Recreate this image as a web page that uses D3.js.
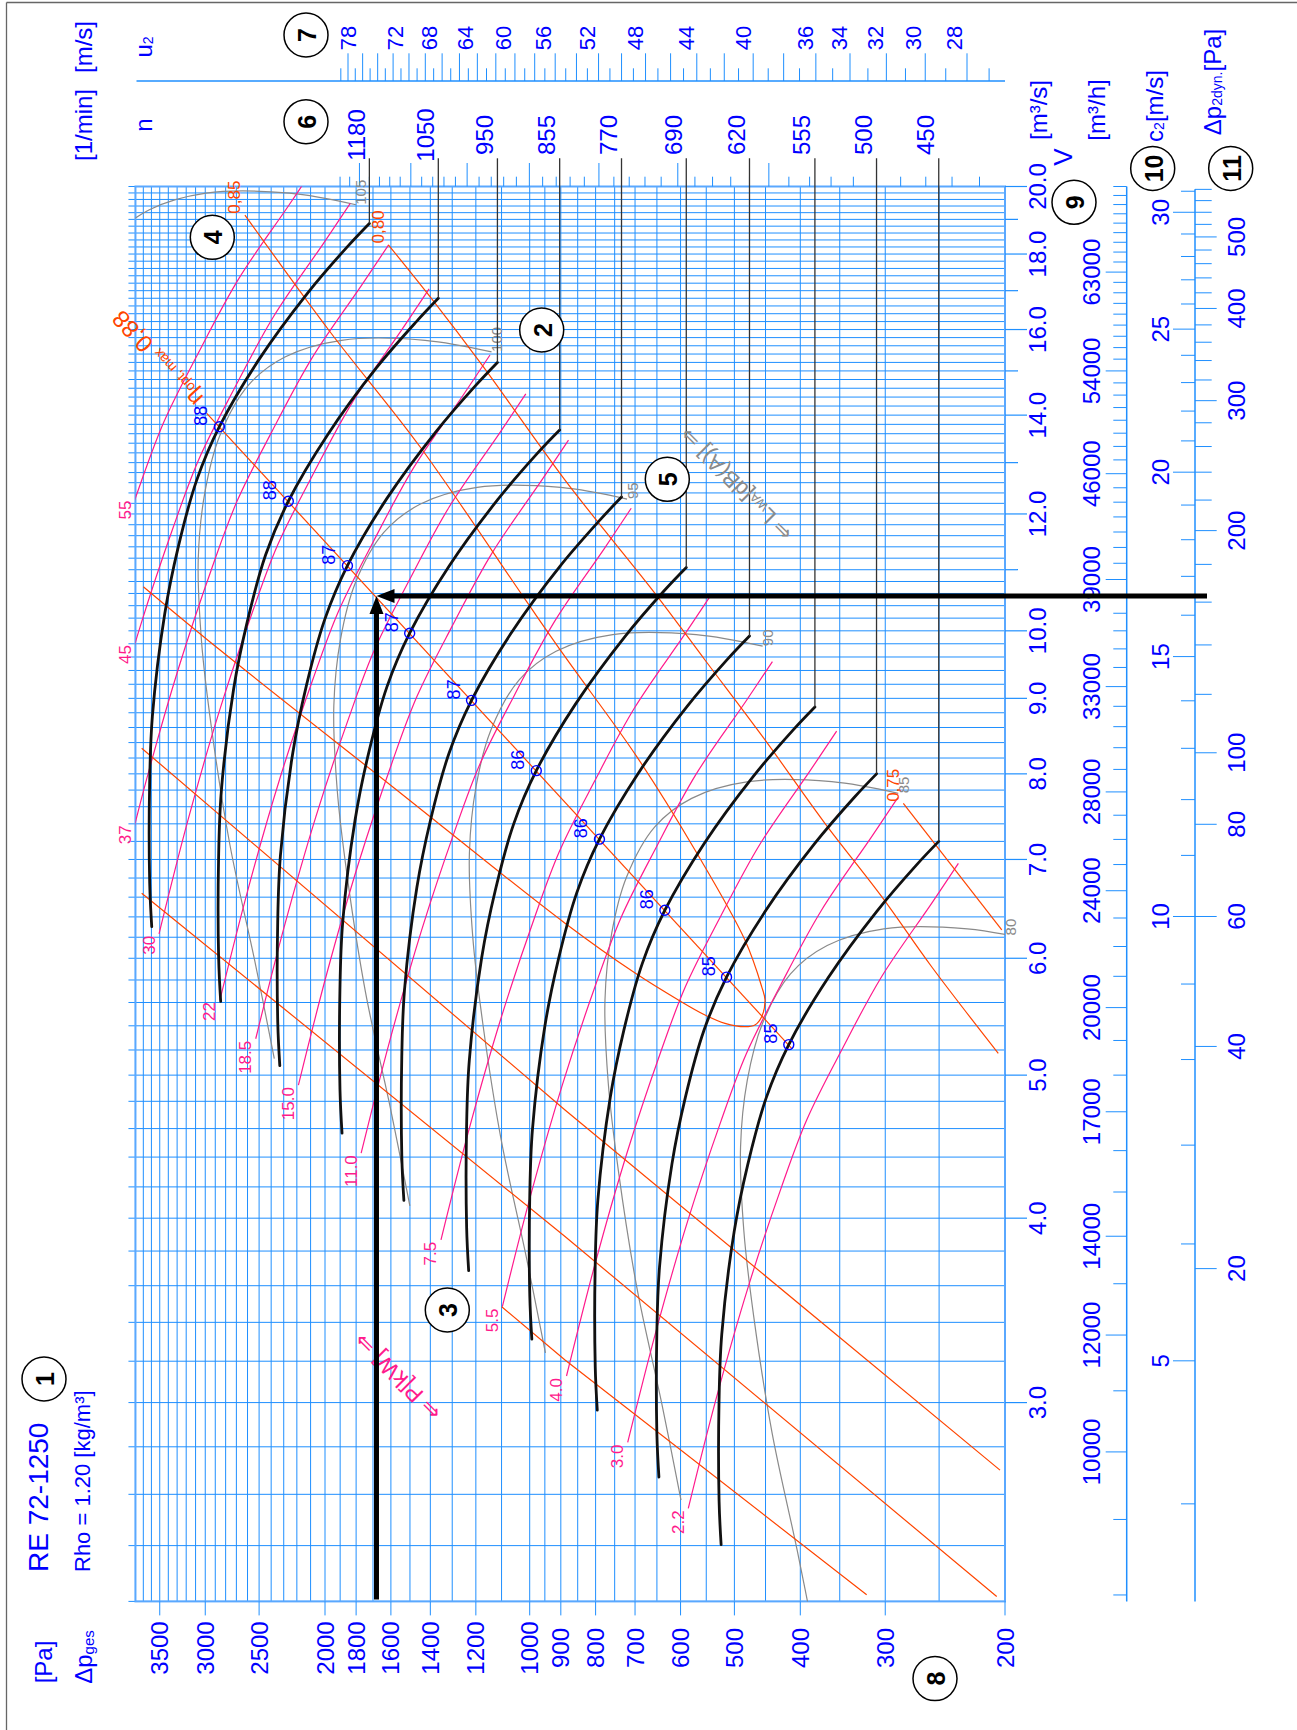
<!DOCTYPE html>
<html>
<head>
<meta charset="utf-8">
<title>RE 72-1250</title>
<script src="https://cdn.jsdelivr.net/npm/d3@7/dist/d3.min.js"></script>
<style>
  html, body { margin: 0; padding: 0; background: #fff; }
  svg { display: block; font-family: "Liberation Sans", Arial, Helvetica, sans-serif; }
</style>
</head>
<body>
<svg id="chart" width="1297" height="1730"></svg>
<script>
// ---------- axis labels ----------
const pressureLabels = [3500, 3000, 2500, 2000, 1800, 1600, 1400, 1200, 1000, 900, 800, 700, 600, 500, 400, 300, 200];
const flowLabels = [3, 4, 5, 6, 7, 8, 9, 10, 12, 14, 16, 18, 20];
const flowMidTicks = [11, 13, 15, 17, 19];
const flowHourLabels = [10000, 12000, 14000, 17000, 20000, 24000, 28000, 33000, 39000, 46000, 54000, 63000];
const c2Labels = [5, 10, 15, 20, 25, 30];
const pdynLabels = [20, 40, 60, 80, 100, 200, 300, 400, 500];
const tipSpeedLabels = [78, 72, 68, 64, 60, 56, 52, 48, 44, 40, 36, 34, 32, 30, 28];

// ---------- fan characteristics: volume flow V [m3/s], total pressure [Pa] ----------
const speeds = [1180, 1050, 950, 855, 770, 690, 620, 555, 500, 450];
const v1180 = [18.88, 18.21, 16.93, 15.26, 13.75, 12.65, 11.40, 10.27, 8.746, 7.884, 6.745, 6.303];
const p1180 = [1721, 1853.5, 2122.8, 2503.2, 2860, 3088, 3287, 3441, 3588.6, 3621.6, 3621, 3596];
const v1050 = [16.80, 16.20, 15.07, 13.58, 12.24, 11.26, 10.14, 9.139, 7.782, 7.015, 6.002, 5.609];
const p1050 = [1362.7, 1467.6, 1680.8, 1982.0, 2264.5, 2445.1, 2602.6, 2724.6, 2841.4, 2867.6, 2867.1, 2847.3];
const v950 = [15.20, 14.66, 13.63, 12.29, 11.07, 10.18, 9.178, 8.268, 7.041, 6.347, 5.430, 5.074];
const p950 = [1115.5, 1201.4, 1375.9, 1622.5, 1853.7, 2001.5, 2130.5, 2230.3, 2326.0, 2347.4, 2347.0, 2330.8];
const v855 = [13.68, 13.20, 12.27, 11.06, 9.963, 9.166, 8.260, 7.441, 6.337, 5.713, 4.887, 4.567];
const p855 = [903.5, 973.1, 1114.5, 1314.2, 1501.5, 1621.2, 1725.7, 1806.6, 1884.1, 1901.4, 1901.1, 1887.9];
const v770 = [12.32, 11.88, 11.05, 9.958, 8.972, 8.255, 7.439, 6.702, 5.707, 5.145, 4.401, 4.113];
const p770 = [732.8, 789.2, 903.9, 1065.9, 1217.8, 1314.9, 1399.6, 1465.2, 1528.1, 1542.1, 1541.9, 1531.2];
const v690 = [11.04, 10.65, 9.900, 8.923, 8.040, 7.397, 6.666, 6.005, 5.114, 4.610, 3.944, 3.686];
const p690 = [588.5, 633.8, 725.8, 855.9, 977.9, 1055.9, 1123.9, 1176.6, 1227.0, 1238.3, 1238.1, 1229.6];
const v620 = [9.920, 9.568, 8.895, 8.018, 7.225, 6.647, 5.990, 5.396, 4.595, 4.142, 3.544, 3.312];
const p620 = [475.1, 511.7, 586.0, 691.1, 789.6, 852.5, 907.4, 950.0, 990.7, 999.8, 999.7, 992.8];
const v555 = [8.880, 8.565, 7.963, 7.177, 6.467, 5.950, 5.362, 4.830, 4.114, 3.708, 3.172, 2.965];
const p555 = [380.7, 410.0, 469.6, 553.8, 632.7, 683.1, 727.1, 761.2, 793.9, 801.2, 801.0, 795.5];
const v500 = [8.000, 7.716, 7.174, 6.466, 5.826, 5.360, 4.831, 4.352, 3.706, 3.341, 2.858, 2.671];
const p500 = [309.0, 332.8, 381.1, 449.4, 513.5, 554.4, 590.2, 617.8, 644.3, 650.2, 650.1, 645.6];
const v450 = [7.200, 6.944, 6.456, 5.820, 5.244, 4.824, 4.347, 3.917, 3.335, 3.007, 2.572, 2.404];
const p450 = [250.3, 269.6, 308.7, 364.0, 415.9, 449.1, 478.0, 500.4, 521.9, 526.7, 526.6, 523.0];

// best efficiency points [%]
const bepV = [13.75, 12.24, 11.07, 9.963, 8.972, 8.040, 7.225, 6.467, 5.826, 5.244];
const bepP = [2860, 2264.5, 1853.7, 1501.5, 1217.8, 977.9, 789.6, 632.7, 513.5, 415.9];
const bepEta = [88, 88, 87, 87, 87, 86, 86, 86, 85, 85];

// ---------- shaft power lines P [kW] ----------
const powerNames = ["2.2", "3.0", "4.0", "5.5", "7.5", "11.0", "15.0", "18.5", "22", "30", "37", "45", "55"];
const kw2_2V = [2.544, 3.028, 3.595, 4.202, 4.664, 5.200, 5.832, 6.537, 6.958];
const kw2_2P = [584.5, 530.9, 477.0, 426.1, 391.3, 347.7, 303.6, 256.4, 234.2];
const kw3_0V = [2.819, 3.355, 3.983, 4.656, 5.168, 5.762, 6.462, 7.243, 7.709];
const kw3_0P = [717.6, 651.8, 585.6, 523.1, 480.4, 426.9, 372.7, 314.8, 287.5];
const kw4_0V = [3.127, 3.721, 4.418, 5.164, 5.732, 6.391, 7.168, 8.034, 8.551];
const kw4_0P = [882.8, 801.9, 720.5, 643.6, 591.0, 525.2, 458.6, 387.3, 353.7];
const kw5_5V = [3.485, 4.148, 4.925, 5.757, 6.390, 7.124, 7.990, 8.956, 9.532];
const kw5_5P = [1097.0, 996.4, 895.3, 799.8, 734.4, 652.6, 569.8, 481.2, 439.6];
const kw7_5V = [3.867, 4.603, 5.464, 6.387, 7.089, 7.904, 8.865, 9.936, 10.576];
const kw7_5P = [1350.4, 1226.6, 1102.1, 984.5, 904.1, 803.3, 701.4, 592.4, 541.1];
const kw11V = [4.427, 5.269, 6.255, 7.311, 8.115, 9.048, 10.148, 11.374, 12.107];
const kw11P = [1769.6, 1607.4, 1444.2, 1290.1, 1184.7, 1052.7, 919.2, 776.3, 709.1];
const kw15V = [4.923, 5.859, 6.956, 8.131, 9.025, 10.062, 11.285, 12.649, 13.464];
const kw15P = [2188.5, 1987.8, 1786.0, 1595.4, 1465.1, 1301.9, 1136.7, 960.0, 876.9];
const kw18_5V = [5.292, 6.298, 7.478, 8.740, 9.701, 10.816, 12.131, 13.597, 14.473];
const kw18_5P = [2528.8, 2296.9, 2063.7, 1843.5, 1692.9, 1504.3, 1313.5, 1109.3, 1013.3];
const kw22V = [5.622, 6.692, 7.945, 9.286, 10.307, 11.492, 12.889, 14.447, 15.377];
const kw22P = [2854.8, 2593.0, 2329.7, 2081.1, 1911.2, 1698.3, 1482.8, 1252.3, 1143.9];
const kw30V = [6.233, 7.419, 8.808, 10.295, 11.427, 12.740, 14.288, 16.016, 17.047];
const kw30P = [3508.4, 3186.7, 2863.2, 2557.7, 2348.8, 2087.1, 1822.4, 1539.0, 1405.8];
const kw37V = [6.675, 7.946, 9.433, 11.026, 12.238, 13.645, 15.303, 17.153, 18.258];
const kw37P = [4024.5, 3655.5, 3284.3, 2933.9, 2694.3, 2394.1, 2090.4, 1765.4, 1612.6];
const kw45V = [7.123, 8.478, 10.066, 11.766, 13.059, 14.560, 16.330, 18.304, 19.482];
const kw45P = [4582.5, 4162.3, 3739.7, 3340.6, 3067.8, 2726.0, 2380.2, 2010.2, 1836.1];
const kw55V = [7.556, 8.993, 10.677, 12.480, 13.852, 15.444, 17.321, 19.415, 20.665];
const kw55P = [5155.8, 4683.1, 4207.6, 3758.6, 3451.6, 3067.0, 2678.0, 2261.7, 2065.9];

// ---------- sound power level LwA [dB(A)] ----------
const soundNames = ["80", "85", "90", "95", "100", "105"];
const lw80V = [6.169, 6.282, 6.282, 6.121, 5.856, 5.416, 4.959, 4.469, 3.924, 3.428, 2.858, 2.382, 2.048];
const lw80P = [181.4, 227.2, 301.4, 365.2, 413.5, 455.0, 478.7, 489.7, 484.3, 468.2, 439.9, 404.2, 378.6];
const lw85V = [7.761, 7.903, 7.903, 7.700, 7.367, 6.814, 6.238, 5.622, 4.937, 4.313, 3.595, 2.997, 2.577];
const lw85P = [287.1, 359.6, 477.0, 577.9, 654.3, 720.1, 757.6, 775.0, 766.4, 740.9, 696.1, 639.6, 599.1];
const lw90V = [9.763, 9.942, 9.942, 9.687, 9.268, 8.572, 7.847, 7.072, 6.211, 5.426, 4.523, 3.770, 3.242];
const lw90P = [454.4, 569.1, 754.9, 914.6, 1035.5, 1139.6, 1199.0, 1226.5, 1212.9, 1172.5, 1101.7, 1012.2, 948.1];
const lw95V = [12.282, 12.507, 12.507, 12.186, 11.659, 10.784, 9.872, 8.897, 7.813, 6.826, 5.689, 4.743, 4.078];
const lw95P = [719.1, 900.5, 1194.7, 1447.4, 1638.8, 1803.6, 1897.5, 1941.1, 1919.5, 1855.7, 1743.5, 1601.9, 1500.5];
const lw100V = [15.451, 15.734, 15.734, 15.330, 14.667, 13.566, 12.419, 11.193, 9.829, 8.587, 7.157, 5.967, 5.131];
const lw100P = [1138.0, 1425.1, 1890.7, 2290.6, 2593.4, 2854.3, 3002.9, 3071.9, 3037.8, 2936.7, 2759.1, 2535.2, 2374.6];
const lw105V = [19.438, 19.794, 19.794, 19.285, 18.451, 17.066, 15.624, 14.081, 12.365, 10.803, 9.004];
const lw105P = [1801.0, 2255.2, 2992.2, 3625.2, 4104.4, 4517.2, 4752.4, 4861.6, 4807.6, 4647.7, 4366.4];

// ---------- efficiency lines ----------
const eta85V = [10.713, 9.705, 7.841, 6.337, 5.863, 5.622, 5.492, 5.421, 5.393, 5.407, 5.477, 5.622, 5.741, 6.173, 7.104, 8.218, 9.604, 10.465, 13.326, 15.945, 19.128];
const eta85P = [3700, 2853.6, 1591.1, 887.3, 699.9, 604.5, 552.4, 516.2, 482.5, 466.4, 455.9, 450.8, 455.9, 482.5, 571.4, 695.9, 887.3, 1010.2, 1449.8, 1966.4, 2623];
const eta80HighV = [18.26, 16.84, 15.10, 12.65, 10.603, 9.555, 8.435, 7.406, 6.605, 5.921, 5.173];
const eta80HighP = [1613.9, 1401.5, 1170.4, 887.3, 654.3, 552.4, 450.8, 368.0, 303.6, 256.4, 204.6];
const eta80LowV = [8.326, 4.735, 2.700];
const eta80LowP = [3720.4, 887.3, 203.4];
const eta75HighV = [7.641, 6.271];
const eta75HighP = [282.2, 202.2];
const eta75LowV = [6.640, 3.887, 2.217];
const eta75LowP = [3720.4, 887.3, 205.7];
const eta70LowV = [3.484, 3.206, 2.223];
const eta70LowP = [1099.4, 887.3, 319.5];
const etaOptV = [14.04, 5.213];
const etaOptP = [2985, 411.9];

// operating point
const opV = 10.56;
const opP = 1680;

// ---------- drawing ----------
const W = 1297, H = 1730;
const GRID = "#1f8fff", BLUE = "#0000ff", MAG = "#ff1a8c", ORG = "#ff4500", GRAY = "#8a8a8a";
const A_OUT = 0.6404;   // outlet area [m2], c2 = V / A
const RHO = 1.2;

const svg = d3.select("#chart");
svg.append("rect").attr("width", W).attr("height", H).attr("fill", "#fff");
svg.append("line").attr("x1", 6.5).attr("y1", 2.5).attr("x2", W).attr("y2", 2.5).attr("stroke", "#666").attr("stroke-width", 1.3);
svg.append("line").attr("x1", 6.5).attr("y1", 2.5).attr("x2", 6.5).attr("y2", H).attr("stroke", "#666").attr("stroke-width", 1.3);

// the diagram is laid out landscape and turned a quarter turn on the page
const g = svg.append("g").attr("transform", `translate(0,${H}) rotate(-90)`);

const xV = d3.scaleLog().domain([2.2, 20]).range([128.6, 1543.5]);
const yP = d3.scaleLog().domain([200, 3800]).range([1005, 135.45]);
const X0 = xV(2.2), X1 = xV(20), Y0 = yP(3800), Y1 = yP(200);

const nPos = n => yP(p1180[0] * Math.pow(n / speeds[0], 2));
const u2Tick = d3.scaleLog().domain([78, 26]).range([348, 967]);
const u2Text = d3.scaleLog().domain([78, 28]).range([348, 954]);
const c2ToV = c => c * A_OUT;
const dynToV = d => Math.sqrt(2 * d / RHO) * A_OUT;

function txt(parent, x, y, s, o = {}) {
  const t = parent.append("text").attr("x", x).attr("y", y)
    .attr("text-anchor", o.anchor || "middle")
    .attr("font-size", o.size || 24)
    .attr("fill", o.fill || BLUE);
  if (o.central !== false) t.attr("dominant-baseline", "central");
  if (o.weight) t.attr("font-weight", o.weight);
  if (o.rotate !== undefined) t.attr("transform", `rotate(${o.rotate},${x},${y})`);
  if (s !== null) t.text(s);
  return t;
}

// ----- grid -----
const vGrid = d3.range(11, 101).map(i => +(i * 0.2).toFixed(1));
const pGrid = d3.range(200, 1001, 50).concat(d3.range(1100, 3801, 100));
const grid = g.append("g").attr("stroke", GRID).attr("stroke-width", 1);
vGrid.forEach(v => grid.append("line").attr("x1", xV(v)).attr("x2", xV(v)).attr("y1", Y0 - 7).attr("y2", Y1));
pGrid.forEach(p => grid.append("line").attr("x1", X0).attr("x2", X1).attr("y1", yP(p)).attr("y2", yP(p)));
g.append("rect").attr("x", X0).attr("y", Y0).attr("width", X1 - X0).attr("height", Y1 - Y0)
  .attr("fill", "none").attr("stroke", "#5aa8ff").attr("stroke-width", 2);

// ----- pressure axis -----
const axes = g.append("g");
pressureLabels.forEach(p => {
  axes.append("line").attr("x1", X0).attr("x2", X0 - 14).attr("y1", yP(p)).attr("y2", yP(p)).attr("stroke", GRID);
  txt(axes, 82, yP(p), p);
});
txt(axes, 68, 43, "[Pa]");
const dp = txt(axes, 73, 83, null);
dp.append("tspan").text("Δp");
dp.append("tspan").attr("font-size", 15).attr("dy", 5).text("ges");

// ----- flow axis V [m3/s] -----
flowLabels.forEach(v => {
  axes.append("line").attr("x1", xV(v)).attr("x2", xV(v)).attr("y1", Y1).attr("y2", Y1 + 22).attr("stroke", GRID).attr("stroke-width", 1.2);
  txt(axes, xV(v), 1037, d3.format(".1f")(v));
});
flowMidTicks.forEach(v => axes.append("line").attr("x1", xV(v)).attr("x2", xV(v)).attr("y1", Y1).attr("y2", Y1 + 13).attr("stroke", GRID).attr("stroke-width", 1.2));

// ----- flow axis [m3/h] -----
axes.append("line").attr("x1", X0).attr("x2", X1).attr("y1", 1126.7).attr("y2", 1126.7).attr("stroke", GRID).attr("stroke-width", 1.5);
d3.range(8000, 72001, 1000).forEach(q => {
  const lab = flowHourLabels.includes(q);
  axes.append("line").attr("x1", xV(q / 3600)).attr("x2", xV(q / 3600)).attr("y1", 1126.7).attr("y2", lab ? 1105.7 : 1113.3).attr("stroke", GRID);
});
flowHourLabels.forEach(q => txt(axes, xV(q / 3600), 1091.7, q));

// ----- outlet velocity c2 and dynamic pressure -----
axes.append("line").attr("x1", X0).attr("x2", xV(dynToV(580))).attr("y1", 1195).attr("y2", 1195).attr("stroke", GRID).attr("stroke-width", 1.5);
d3.range(4, 32).forEach(c => {
  const lab = c % 5 === 0;
  axes.append("line").attr("x1", xV(c2ToV(c))).attr("x2", xV(c2ToV(c))).attr("y1", 1195).attr("y2", lab ? 1173 : 1181).attr("stroke", GRID);
});
c2Labels.forEach(c => txt(axes, xV(c2ToV(c)), 1160, c));
d3.range(20, 581, 20).forEach(d => {
  const lab = pdynLabels.includes(d);
  axes.append("line").attr("x1", xV(dynToV(d))).attr("x2", xV(dynToV(d))).attr("y1", 1195).attr("y2", lab ? 1216.7 : 1211.7).attr("stroke", GRID);
});
pdynLabels.forEach(d => txt(axes, xV(dynToV(d)), 1236.7, d));

// ----- speed ticks above the field -----
d3.range(420, 1241, 20).forEach(n => {
  axes.append("line").attr("x1", X1).attr("x2", n % 100 === 0 ? 1567 : 1553.3)
    .attr("y1", nPos(n)).attr("y2", nPos(n)).attr("stroke", GRID);
});

// ----- tip speed u2 -----
axes.append("line").attr("x1", 1649).attr("x2", 1649).attr("y1", 136.5).attr("y2", 1005).attr("stroke", GRID).attr("stroke-width", 1.5);
d3.range(25, 80).forEach(u => {
  axes.append("line").attr("x1", 1649).attr("x2", u % 2 === 0 ? 1676.7 : 1661.7)
    .attr("y1", u2Tick(u)).attr("y2", u2Tick(u)).attr("stroke", GRID);
});
tipSpeedLabels.forEach(u => txt(axes, 1692, u2Text(u), u, { size: 22 }));

// ----- titles of the scales -----
txt(axes, 1605, 83, "[1/min]");
txt(axes, 1683, 83, "[m/s]");
txt(axes, 1605, 143, "n");
const u2t = txt(axes, 1683, 143, null);
u2t.append("tspan").text("u");
u2t.append("tspan").attr("font-size", 14).attr("dy", 5).text("2");
txt(axes, 1620, 1038, "[m³/s]");
txt(axes, 1573, 1063, "V", { size: 26 });
txt(axes, 1620, 1096, "[m³/h]");
const c2t = txt(axes, 1624, 1154, null);
c2t.append("tspan").text("c");
c2t.append("tspan").attr("font-size", 14).attr("dy", 5).text("2");
c2t.append("tspan").attr("dy", -5).text("[m/s]");
const pdt = txt(axes, 1648, 1212, null);
pdt.append("tspan").text("Δp");
pdt.append("tspan").attr("font-size", 14).attr("dy", 5).text("2dyn.");
pdt.append("tspan").attr("dy", -5).text("[Pa]");

txt(axes, 158, 38.6, "RE 72-1250", { anchor: "start", size: 28 });
txt(axes, 158, 82.7, "Rho = 1.20 [kg/m³]", { anchor: "start", size: 22 });

// ----- curves inside the field -----
g.append("clipPath").attr("id", "field").append("rect")
  .attr("x", X0).attr("y", Y0).attr("width", X1 - X0).attr("height", Y1 - Y0);
const field = g.append("g").attr("clip-path", "url(#field)");

const smooth = d3.line().x(d => xV(d[0])).y(d => yP(d[1])).curve(d3.curveCatmullRom.alpha(0.5));
const straight = d3.line().x(d => xV(d[0])).y(d => yP(d[1]));

const inField = d => d[0] >= 2.2 && d[0] <= 20 && d[1] >= 200 && d[1] <= 3800;
const lerpLog = (a, b, t) => [Math.exp(Math.log(a[0]) * (1 - t) + Math.log(b[0]) * t), Math.exp(Math.log(a[1]) * (1 - t) + Math.log(b[1]) * t)];
function entry(pts) {
  if (inField(pts[0])) return pts[0];
  for (let i = 1; i < pts.length; i++) {
    if (inField(pts[i])) {
      let lo = 0, hi = 1;
      for (let k = 0; k < 30; k++) { const m = (lo + hi) / 2; if (inField(lerpLog(pts[i - 1], pts[i], m))) hi = m; else lo = m; }
      return lerpLog(pts[i - 1], pts[i], hi);
    }
  }
  return pts[pts.length - 1];
}

// sound power level
const soundLines = [[lw80V, lw80P], [lw85V, lw85P], [lw90V, lw90P], [lw95V, lw95P], [lw100V, lw100P], [lw105V, lw105P]];
soundLines.forEach(([V, P], i) => {
  const pts = d3.zip(V, P);
  field.append("path").attr("d", smooth(pts)).attr("fill", "none").attr("stroke", GRAY).attr("stroke-width", 1.2);
  const e = entry(pts);
  txt(g, xV(e[0]), yP(e[1]) + 5, soundNames[i], { anchor: "start", size: 15, fill: GRAY });
});

// shaft power
const powerLines = [[kw2_2V, kw2_2P], [kw3_0V, kw3_0P], [kw4_0V, kw4_0P], [kw5_5V, kw5_5P], [kw7_5V, kw7_5P], [kw11V, kw11P],
  [kw15V, kw15P], [kw18_5V, kw18_5P], [kw22V, kw22P], [kw30V, kw30P], [kw37V, kw37P], [kw45V, kw45P], [kw55V, kw55P]];
powerLines.forEach(([V, P], i) => {
  const pts = d3.zip(V, P);
  field.append("path").attr("d", smooth(pts)).attr("fill", "none").attr("stroke", MAG).attr("stroke-width", 1.2);
  const e = entry(pts);
  txt(g, xV(e[0]) - 2, yP(e[1]) - 10, powerNames[i], { anchor: "end", size: 17, fill: MAG });
});

// efficiency
const etaCurves = [[eta85V, eta85P, smooth], [eta80HighV, eta80HighP, smooth], [eta80LowV, eta80LowP, straight],
  [eta75HighV, eta75HighP, straight], [eta75LowV, eta75LowP, straight], [eta70LowV, eta70LowP, straight], [etaOptV, etaOptP, straight]];
etaCurves.forEach(([V, P, gen]) => {
  field.append("path").attr("d", gen(d3.zip(V, P))).attr("fill", "none").attr("stroke", ORG).attr("stroke-width", 1.2);
});
[[eta85V[eta85V.length - 1], eta85P[eta85P.length - 1], "0,85"], [eta80HighV[0], eta80HighP[0], "0,80"], [eta75HighV[0], eta75HighP[0], "0,75"]]
  .forEach(([v, p, s]) => txt(g, xV(v) + 18, yP(p) - 10, s, { size: 17, fill: ORG }));

// label along the line of best efficiency
{
  const ang = Math.atan2(yP(etaOptP[0] * 1.1) - yP(etaOptP[0]), xV(etaOptV[0] * Math.sqrt(1.1)) - xV(etaOptV[0])) * 180 / Math.PI;
  const x = xV(etaOptV[0]) + 10, y = yP(etaOptP[0]) - 9;
  const t = g.append("text").attr("x", x).attr("y", y).attr("fill", ORG).attr("dominant-baseline", "central")
    .attr("transform", `rotate(${ang},${x},${y})`);
  t.append("tspan").attr("font-size", 24).text("η");
  t.append("tspan").attr("font-size", 14).attr("dy", 5).text("opt, max");
  t.append("tspan").attr("font-size", 24).attr("dy", -5).text(" 0,88");
}

// fan characteristics
const fanV = [v1180, v1050, v950, v855, v770, v690, v620, v555, v500, v450];
const fanP = [p1180, p1050, p950, p855, p770, p690, p620, p555, p500, p450];
const fans = g.append("g");
speeds.forEach((n, i) => {
  const pts = d3.zip(fanV[i], fanP[i]);
  fans.append("path").attr("d", smooth(pts)).attr("fill", "none").attr("stroke", "#111").attr("stroke-width", 2.8).attr("stroke-linecap", "round");
  fans.append("line").attr("x1", xV(fanV[i][0])).attr("x2", 1571.7)
    .attr("y1", yP(fanP[i][0])).attr("y2", yP(fanP[i][0])).attr("stroke", "#333").attr("stroke-width", 1.3);
  txt(g, 1595, yP(fanP[i][0]) - 13, n);
});

// best efficiency markers
bepV.forEach((v, i) => {
  g.append("circle").attr("cx", xV(v)).attr("cy", yP(bepP[i])).attr("r", 5)
    .attr("fill", "none").attr("stroke", BLUE).attr("stroke-width", 1.4);
  txt(g, xV(v) + 11, yP(bepP[i]) - 18, bepEta[i], { size: 18 });
});

// direction notes
{
  const a = txt(g, 353, 397.5, null, { size: 23, fill: MAG, rotate: -45 });
  a.append("tspan").text("⇐ P[kW] ⇒");
  const b = txt(g, 1245, 736, null, { size: 22, fill: GRAY, rotate: -45 });
  b.append("tspan").text("⇐ L");
  b.append("tspan").attr("font-size", 13).attr("dy", 4).text("WA");
  b.append("tspan").attr("dy", -4).text("[dB(A)] ⇒");
}

// operating point arrows
{
  const ou = xV(opV), ov = yP(opP);
  g.append("line").attr("x1", X0 + 2).attr("x2", ou - 14).attr("y1", ov).attr("y2", ov).attr("stroke", "#000").attr("stroke-width", 5);
  g.append("path").attr("d", `M${ou},${ov}L${ou - 18},${ov - 7}L${ou - 18},${ov + 7}Z`).attr("fill", "#000");
  g.append("line").attr("x1", ou).attr("x2", ou).attr("y1", 1207).attr("y2", ov + 14).attr("stroke", "#000").attr("stroke-width", 5);
  g.append("path").attr("d", `M${ou},${ov}L${ou - 7},${ov + 18}L${ou + 7},${ov + 18}Z`).attr("fill", "#000");
}

// numbered call-outs
const callouts = [[1, 351, 44], [2, 1400, 541.7], [3, 420, 447.3], [4, 1492.7, 212.3], [5, 1250.7, 667.3], [6, 1608.3, 306],
  [7, 1695, 306], [8, 51.4, 935], [9, 1527.7, 1074], [10, 1561.6, 1152.7], [11, 1561.6, 1230.7]];
callouts.forEach(([k, x, y]) => {
  g.append("circle").attr("cx", x).attr("cy", y).attr("r", 22).attr("fill", "#fff").attr("stroke", "#000").attr("stroke-width", 1.5);
  txt(g, x, y + 1, k, { size: 25, fill: "#000", weight: "bold" });
});
</script>
</body>
</html>
